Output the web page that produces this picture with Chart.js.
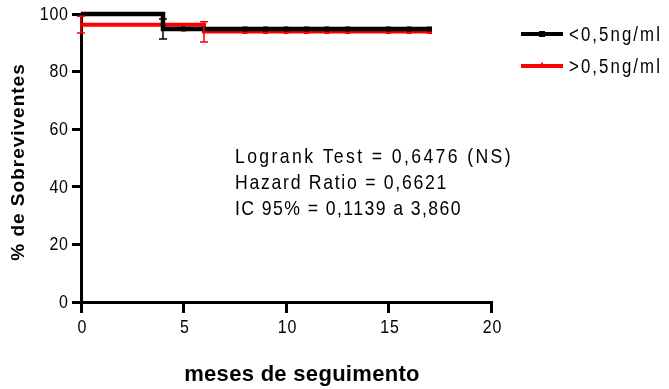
<!DOCTYPE html>
<html><head><meta charset="utf-8">
<script src="https://cdn.jsdelivr.net/npm/chart.js@4"></script>
<style>html,body{margin:0;padding:0;background:#fff}#w{width:669px;height:389px}</style>
</head><body><div id="w"><canvas id="c" width="669" height="389"></canvas></div>
<script>
// Data
const seriesNames = ['<0,5ng/ml', '>0,5ng/ml'];
const lowTimes = [0, 4, 17];
const lowSurv = [100, 94.8, 94.8];
const highTimes = [0, 6, 17];
const highSurv = [96.3, 93.9, 93.9];
const lowCensorTimes = [5, 8, 9, 10, 11, 12, 13, 15, 16, 17];
const highCensorTimes = [8, 9, 10, 11, 12, 13, 15, 16, 17];
const lowErrX = [4];
const lowErrY = [94.8];
const lowErrHalf = [3.5];
const highErrX = [0, 6];
const highErrY = [96.3, 93.8];
const highErrHalf = [2.9, 3.5];
const xTicks = [0, 5, 10, 15, 20];
const yTicks = [0, 20, 40, 60, 80, 100];
const annotationLines = ['Logrank Test = 0,6476 (NS)', 'Hazard Ratio = 0,6621', 'IC 95% = 0,1139 a 3,860'];
const xTitle = 'meses de seguimento';
const yTitle = '% de Sobreviventes';

const colors = ['#000000', '#ff0000'];
const toPts = (xs, ys) => xs.map((x, i) => ({x, y: ys[i]}));
const lastVal = (xs, ys, t) => { let v = ys[0]; xs.forEach((x, i) => { if (x <= t) v = ys[i]; }); return v; };

const FONT = '"Liberation Sans", Arial, sans-serif';
const SX = 0.84; // condensed look

function fitSpacing(ctx, font, ref, target) {
  ctx.save(); ctx.font = font; ctx.letterSpacing = '0px';
  const w = ctx.measureText(ref).width;
  ctx.restore();
  return Math.max(0, (target / SX - w) / ref.length);
}
function narrowText(ctx, s, x, y, font, spacing, align) {
  ctx.save();
  ctx.font = font; ctx.letterSpacing = spacing + 'px';
  ctx.textBaseline = 'middle'; ctx.textAlign = 'left';
  const w = ctx.measureText(s).width - spacing;
  ctx.translate(x, y); ctx.scale(SX, 1);
  let x0 = 0;
  if (align === 'right') x0 = -w; else if (align === 'center') x0 = -w / 2;
  ctx.fillText(s, x0, 0);
  ctx.restore();
}

const extras = {
  id: 'extras',
  afterDatasetsDraw(chart) {
    const ctx = chart.ctx, xs = chart.scales.x, ys = chart.scales.y;
    const drawErr = (X, Y, H, col) => {
      ctx.save(); ctx.strokeStyle = col; ctx.lineWidth = 1.5;
      X.forEach((t, i) => {
        const px = xs.getPixelForValue(t);
        const y1 = ys.getPixelForValue(Y[i] + H[i]), y2 = ys.getPixelForValue(Y[i] - H[i]);
        ctx.beginPath();
        ctx.moveTo(px, y1); ctx.lineTo(px, y2);
        ctx.moveTo(px - 4, y1); ctx.lineTo(px + 4, y1);
        ctx.moveTo(px - 4, y2); ctx.lineTo(px + 4, y2);
        ctx.stroke();
      });
      ctx.restore();
    };
    drawErr(highErrX, highErrY, highErrHalf, colors[1]);
    drawErr(lowErrX, lowErrY, lowErrHalf, colors[0]);
  },
  afterDraw(chart) {
    const ctx = chart.ctx, xs = chart.scales.x, ys = chart.scales.y;
    ctx.save();
    ctx.fillStyle = '#000';
    const tf = '19px ' + FONT;
    const tsp = fitSpacing(ctx, tf, '100', 29);
    yTicks.forEach(v => narrowText(ctx, String(v), 68, ys.getPixelForValue(v) + 0.5, tf, tsp, 'right'));
    xTicks.forEach(v => narrowText(ctx, String(v), xs.getPixelForValue(v) + 1, 328, tf, tsp, 'center'));
    const af = '21px ' + FONT;
    const aw = [278, 213, 227];
    annotationLines.forEach((s, i) => narrowText(ctx, s, 235, 157 + i * 26, af, fitSpacing(ctx, af, s, aw[i]), 'left'));
    const lf = '20px ' + FONT;
    const lsp = fitSpacing(ctx, lf, seriesNames[0], 93);
    const ly = [34, 66];
    seriesNames.forEach((n, i) => {
      ctx.strokeStyle = colors[i]; ctx.lineWidth = 4;
      ctx.beginPath(); ctx.moveTo(521, ly[i]); ctx.lineTo(563, ly[i]); ctx.stroke();
      ctx.fillStyle = colors[i];
      if (i === 0) ctx.fillRect(539, ly[i] - 3, 6, 6);
      else { ctx.beginPath(); ctx.moveTo(542, ly[i] - 4); ctx.lineTo(546, ly[i] + 2); ctx.lineTo(538, ly[i] + 2); ctx.closePath(); ctx.fill(); }
      ctx.fillStyle = '#000';
      narrowText(ctx, n, 569, ly[i] + 1, lf, lsp, 'left');
    });
    ctx.textAlign = 'center'; ctx.textBaseline = 'middle';
    ctx.font = 'bold 22px ' + FONT;
    ctx.letterSpacing = '0.3px';
    ctx.fillText(xTitle, 302, 375);
    ctx.translate(19, 162); ctx.rotate(-Math.PI / 2);
    ctx.font = 'bold 19px ' + FONT;
    ctx.letterSpacing = '1px';
    ctx.fillText(yTitle, 0, 0);
    ctx.restore();
  }
};

new Chart(document.getElementById('c'), {
  type: 'line',
  data: {
    datasets: [
      {label: seriesNames[0], data: toPts(lowTimes, lowSurv), stepped: 'before', borderColor: colors[0], borderWidth: 4.5, pointRadius: 0, order: 1, clip: 10},
      {label: seriesNames[1], data: toPts(highTimes, highSurv), stepped: 'before', borderColor: colors[1], borderWidth: 4, pointRadius: 0, order: 2, clip: 10},
      {label: 'c0', data: lowCensorTimes.map(t => ({x: t, y: lastVal(lowTimes, lowSurv, t)})), showLine: false, pointStyle: 'rect', pointRadius: 3.5, backgroundColor: colors[0], borderColor: colors[0], borderWidth: 0, order: 0, clip: 10},
      {label: 'c1', data: highCensorTimes.map(t => ({x: t, y: lastVal(highTimes, highSurv, t)})), showLine: false, pointStyle: 'rect', pointRadius: 3.5, backgroundColor: colors[1], borderColor: colors[1], borderWidth: 0, order: 3, clip: 10}
    ]
  },
  options: {
    responsive: false, animation: false, maintainAspectRatio: false,
    layout: {padding: {left: 0, top: 14, right: 178, bottom: 0}},
    plugins: {legend: {display: false}, tooltip: {enabled: false}},
    scales: {
      x: {
        type: 'linear', min: 0, max: 20,
        afterFit(s) { s.height = 87; },
        afterBuildTicks(s) { s.ticks = xTicks.map(v => ({value: v})); },
        grid: {drawOnChartArea: false, drawTicks: true, tickLength: 11, color: '#000', lineWidth: 3},
        border: {display: true, color: '#000', width: 3},
        ticks: {display: false}
      },
      y: {
        min: 0, max: 100,
        afterFit(s) { s.width = 81; },
        afterBuildTicks(s) { s.ticks = yTicks.map(v => ({value: v})); },
        grid: {drawOnChartArea: false, drawTicks: true, tickLength: 9, color: '#000', lineWidth: 3},
        border: {display: true, color: '#000', width: 3},
        ticks: {display: false}
      }
    }
  },
  plugins: [extras]
});
</script></body></html>
